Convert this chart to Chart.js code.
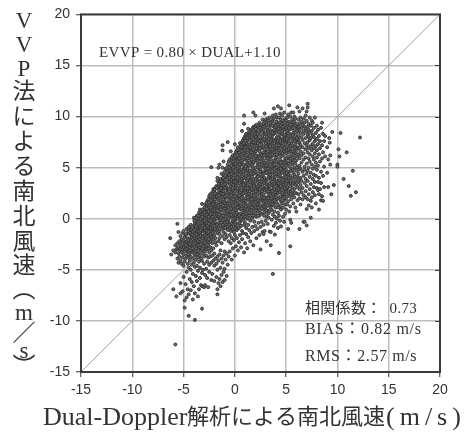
<!DOCTYPE html>
<html>
<head>
<meta charset="utf-8">
<script src="https://cdn.jsdelivr.net/npm/chart.js@4"></script>
<style>
  html, body { margin: 0; padding: 0; background: #fff; }
  canvas { display: block; }
</style>
</head>
<body>
<canvas id="scatter" width="473" height="435"></canvas>
<script>
// each row: [Dual-Doppler value, [VVP values read at that x]]
const lowerCloud = [
  [-6.3,[-1.9]], [-6.2,[-3.5]], [-6.0,[-6.9,-3.1]], [-5.8,[-12.3,-3.3,-2.6]], [-5.7,[-7.6,-3.0]],
  [-5.6,[-3.9,-2.9,-2.4,-0.5]], [-5.5,[-4.3,-3.4,-2.8,-1.3]], [-5.4,[-3.7,-3.1,-2.2]],
  [-5.3,[-7.3,-6.3,-4.1,-2.9,-2.5,-1.7]], [-5.2,[-4.4,-3.3,-2.7,-2.0]], [-5.1,[-7.1,-3.8,-3.0,-2.3,-1.4]],
  [-5.0,[-5.7,-4.6,-3.5,-2.8,-2.1,-1.2]], [-4.9,[-8.7,-8.0,-4.2,-3.2,-2.6,-1.8]], [-4.8,[-6.4,-3.9,-3.0,-2.4,-1.6]],
  [-4.7,[-7.7,-5.2,-3.6,-2.9,-2.2,-1.0]], [-4.6,[-6.9,-4.4,-3.3,-2.7,-1.9]], [-4.5,[-9.5,-7.4,-4.8,-3.8,-3.1,-2.4,-1.4,-0.8]],
  [-4.4,[-5.9,-4.1,-3.4,-2.8,-2.0,-1.1]], [-4.3,[-7.0,-5.0,-3.7,-3.0,-2.3,-1.6,-0.6]], [-4.2,[-6.2,-4.5,-3.2,-2.6,-1.8,-1.0]],
  [-4.1,[-7.9,-5.4,-3.9,-3.3,-2.5,-2.0,-1.3]], [-4.0,[-6.6,-4.3,-3.0,-2.2,-1.5,-0.7,0.1]], [-3.9,[-9.9,-7.3,-4.7,-3.6,-2.8,-1.9,-1.1,-0.4]],
  [-3.8,[-5.6,-4.0,-3.2,-2.4,-1.7,-0.9,-0.2]], [-3.7,[-6.1,-4.6,-3.5,-2.7,-2.1,-1.3,-0.6,0.3]], [-3.6,[-7.6,-5.1,-3.8,-2.9,-2.2,-1.5,-0.8,0.0]],
  [-3.5,[-6.9,-4.2,-3.3,-2.5,-1.9,-1.1,-0.3,0.6]], [-3.4,[-5.8,-4.8,-3.6,-2.8,-2.0,-1.4,-0.7,0.2,0.9]], [-3.3,[-6.5,-3.9,-3.0,-2.3,-1.6,-0.9,-0.1,0.5]],
  [-3.2,[-8.8,-6.6,-5.3,-4.1,-3.1,-2.6,-1.8,-1.2,-0.5,0.4,1.45]], [-3.1,[-5.0,-3.4,-2.4,-1.7,-1.0,-0.2,0.7]], [-3.0,[-6.7,-4.4,-3.7,-2.9,-2.1,-1.3,-0.6,0.1,1.0]],
  [-2.9,[-6.5,-5.5,-3.2,-2.5,-1.9,-1.1,-0.4,0.3,0.8,1.4]], [-2.8,[-4.9,-3.6,-2.7,-2.0,-1.5,-0.8,0.0,0.6,1.2]], [-2.7,[-5.8,-4.2,-3.0,-2.2,-1.4,-0.7,0.2,0.9,1.7]],
  [-2.6,[-6.7,-3.8,-2.6,-1.8,-1.0,-0.3,0.5,1.1,1.9]], [-2.5,[-5.2,-4.5,-3.3,-2.3,-1.6,-0.9,-0.1,0.4,1.3,2.2]], [-2.4,[-3.7,-2.8,-2.1,-1.2,-0.5,0.3,0.8,1.6,2.4]],
  [-2.3,[-6.0,-4.3,-3.1,-1.9,-1.3,-0.6,0.1,0.7,1.4,2.0,5.05]], [-2.2,[-5.4,-3.6,-2.4,-1.7,-0.8,0.0,0.6,1.2,1.8,2.6]], [-2.1,[-4.1,-2.9,-2.0,-1.1,-0.4,0.4,1.0,1.7,2.0,2.9]]
];
const middleCloud = [
  [-2.0,[-6.1,-4.6,-3.4,-1.6,-1.2,-0.1,0.4,1.6,2.3,2.7]], [-1.9,[-3.9,-2.3,-1.9,-0.5,0.1,1.2,1.4,2.5,3.0]], [-1.8,[-5.7,-4.4,-2.6,-0.9,-0.6,0.6,1.0,2.1,2.2,3.2]],
  [-1.7,[-7.4,-6.9,-5.0,-3.7,-1.4,-1.1,0.3,0.5,1.9,2.4,3.7,4.0]], [-1.6,[-6.3,-4.1,-2.2,-0.8,0.2,1.1,1.3,2.9,3.2,5.0]], [-1.5,[-5.9,-3.5,-1.9,-1.5,0.0,0.9,2.0,2.6,3.6,5.3]],
  [-1.4,[-6.6,-4.8,-3.1,-0.7,-0.2,0.7,1.6,1.8,3.1,3.3,3.9]], [-1.3,[-5.5,-3.9,-2.4,-1.0,0.4,1.2,2.3,2.8,3.4,4.4]], [-1.2,[-6.2,-4.3,-1.7,-0.3,0.1,1.5,2.2,2.5,3.8,5.0,6.7,7.2]],
  [-1.1,[-5.2,-3.6,-1.3,-0.9,0.8,1.0,2.7,3.0,4.3,5.6]], [-1.0,[-6.0,-4.9,-3.2,-2.0,-0.4,0.5,1.7,1.9,3.6,3.9,4.6]], [-0.9,[-4.0,-1.5,-0.2,0.2,1.2,2.4,3.3,3.5,4.9]],
  [-0.8,[-5.6,-3.4,-1.8,-0.6,0.6,0.9,2.1,3.1,4.2,4.95]], [-0.7,[-4.5,-1.1,-0.8,0.4,1.5,1.6,2.8,4.0,4.4,5.3,7.5]], [-0.6,[-3.7,-2.2,-0.3,0.0,1.1,2.5,2.9,3.7,4.7,5.6]],
  [-0.5,[-3.2,-1.6,-0.9,0.7,1.9,2.2,3.4,3.6,5.1,5.8]], [-0.4,[-2.4,-1.2,0.2,0.5,1.3,2.6,3.1,4.5,4.9,6.6]], [-0.3,[-4.0,-1.9,-0.5,0.9,1.7,2.0,3.8,4.1,5.4,5.7,6.0]],
  [-0.2,[-2.9,-1.0,-0.2,0.3,1.4,2.8,3.0,4.3,4.8,5.2,6.2]], [-0.1,[-2.1,-1.3,0.6,1.0,2.3,2.5,3.6,4.6,5.5,5.9]], [0.0,[-3.6,-1.6,-0.4,0.1,1.6,1.8,3.3,3.9,4.0,5.1,6.3,7.3]],
  [0.1,[-2.7,-0.8,-0.1,0.8,1.2,2.9,3.2,4.4,5.7,6.0,6.5]], [0.2,[-1.9,-1.1,0.4,0.6,2.1,2.3,3.7,4.9,5.3,6.4,6.7]], [0.3,[-3.1,-0.5,0.2,1.4,1.5,2.7,3.5,4.2,4.6,5.8,7.0]],
  [0.4,[-2.3,-0.9,1.0,1.1,2.0,3.0,3.9,5.0,5.6,6.1,6.8]], [0.5,[-1.6,-0.3,0.5,1.9,2.5,2.6,4.1,4.7,5.2,6.6,7.4]], [0.6,[-2.8,-0.7,0.0,0.9,1.3,3.3,3.6,4.5,5.9,6.3,7.2]],
  [0.7,[-2.0,-1.2,0.3,1.7,2.2,2.4,3.8,5.4,5.5,6.9,7.5,8.6]], [0.8,[-1.4,0.1,0.6,1.2,2.8,3.1,4.3,4.8,6.2,7.0,7.7]], [0.9,[-3.3,-0.6,0.8,1.6,1.8,3.5,4.0,5.1,5.8,6.7,7.3,7.9,9.3,10.1]]
];
const coreCloud = [
  [1.0,[-2.4,-0.4,0.2,1.0,2.0,2.9,3.4,4.6,4.9,6.0,6.4,7.8,8.1]], [1.1,[-1.5,-0.9,0.7,1.4,2.4,2.6,3.9,5.3,5.7,7.1,7.4,8.3]], [1.2,[-2.9,0.0,0.4,1.8,3.2,3.6,4.2,5.0,6.5,6.9,7.6,8.0]],
  [1.3,[-1.8,-0.6,1.1,1.2,2.2,2.7,4.4,4.7,5.5,6.1,7.2,8.4,8.8]], [1.4,[-1.1,0.3,0.9,2.5,3.0,3.8,5.2,5.9,6.7,7.9,8.2]], [1.5,[-2.2,-0.2,1.6,1.9,3.4,4.1,4.5,6.3,6.6,7.0,8.5]],
  [1.6,[-1.4,0.5,0.8,2.1,2.3,3.1,3.7,5.6,5.8,7.5,7.7,8.7]], [1.7,[-0.8,0.1,1.3,1.5,2.8,4.3,4.8,5.1,6.8,6.2,8.1,8.8]], [1.8,[-2.6,0.6,1.0,2.6,3.5,3.9,5.4,6.0,7.3,7.8,9.0,10.4]],
  [1.9,[-1.2,-0.3,1.7,2.0,3.3,4.6,4.7,6.4,6.5,7.1,8.3,8.9]], [2.0,[-0.7,0.4,1.2,2.4,2.9,3.6,5.0,5.7,7.4,7.6,8.6,9.1,10.1]], [2.1,[-1.9,0.2,0.9,1.9,3.1,4.0,4.4,5.9,6.9,8.0,8.4,9.2]],
  [2.2,[-1.0,0.7,1.4,2.2,2.7,3.8,5.2,5.5,6.2,7.2,7.9,8.9]], [2.3,[-0.4,1.1,1.6,3.0,3.4,4.2,4.9,6.1,6.7,7.7,8.5,9.1]], [2.4,[-1.6,0.3,0.8,2.5,2.6,3.7,5.3,5.6,6.6,7.0,8.2,9.4]],
  [2.5,[-3.0,-0.8,1.3,2.0,3.2,4.5,4.8,6.3,7.5,7.8,8.7,9.0]], [2.6,[-0.3,0.5,1.8,2.3,3.6,4.1,5.1,5.8,6.9,7.3,8.8,9.2]], [2.7,[-1.3,1.0,1.2,2.9,3.3,4.3,5.4,6.0,6.4,7.9,8.1,9.7]],
  [2.8,[-1.5,-0.6,0.9,1.5,2.4,3.9,4.6,5.7,6.5,7.1,8.6,9.3]], [2.9,[-1.2,0.6,1.7,2.8,3.0,4.0,5.0,5.3,6.8,7.6,8.3,9.5,10.3]], [3.0,[-0.2,1.1,1.4,2.1,3.7,4.7,4.9,6.2,7.4,7.7,8.9,9.7]],
  [3.1,[-2.2,0.2,1.9,2.6,3.4,3.8,5.5,5.9,6.6,8.0,8.4,9.4]], [3.2,[-0.5,0.8,1.3,3.1,3.2,4.4,5.2,6.3,7.0,7.2,8.7,9.8]], [3.3,[0.1,1.6,2.2,2.5,4.1,4.8,5.6,6.0,7.8,8.2,9.1,9.6]],
  [3.4,[-1.25,0.7,1.8,2.9,3.5,4.6,5.0,6.7,6.9,7.3,8.8,9.9]], [3.5,[-2.6,-1.3,1.2,1.5,2.7,3.9,4.2,5.8,6.4,7.6,8.5,9.2]], [3.6,[-0.1,0.9,2.0,3.3,3.6,5.1,5.4,6.1,7.9,8.1,9.5]],
  [3.7,[-5.4,0.4,1.7,2.4,2.8,4.5,4.9,6.5,7.1,7.4,8.6,9.7,10.1]], [3.8,[-0.7,1.3,2.1,3.1,4.0,5.6,5.7,6.8,7.7,8.3,9.0,9.8,10.8]], [3.9,[-1.55,0.2,1.6,2.6,3.8,4.3,5.2,6.2,7.0,8.4,8.9,9.3]],
  [4.0,[-0.4,1.1,2.3,3.4,3.5,4.7,5.9,6.6,7.5,7.8,9.1,10.2]], [4.1,[0.0,1.9,2.8,3.0,4.4,5.0,6.0,6.9,8.0,8.7,9.5,9.9]], [4.2,[-0.9,0.6,1.4,2.5,3.7,4.1,5.5,6.3,7.3,7.6,9.2,11.0]],
  [4.3,[-3.35,0.3,2.0,3.2,3.3,4.8,5.3,6.7,7.2,8.5,9.0,9.9]], [4.4,[-0.2,1.2,2.6,2.9,4.2,4.6,5.8,6.4,7.9,8.2,9.4,10.3]], [4.5,[-0.75,0.9,1.7,3.5,3.9,5.1,6.1,6.5,7.4,8.8,9.7,10.8]],
  [4.6,[1.5,2.2,3.1,4.5,4.9,5.6,7.1,7.7,8.6,9.3,10.1]], [4.7,[0.2,1.1,2.7,3.6,4.0,5.4,6.2,6.8,8.3,8.9,9.6]], [4.8,[-0.3,1.8,2.4,3.3,4.7,5.0,6.6,7.5,8.0,9.1,10.4]],
  [4.9,[0.5,1.4,2.9,3.8,4.3,5.7,5.9,7.3,7.8,8.7,9.8]]
];
const upperRightCloud = [
  [5.0,[0.9,2.0,2.6,3.4,4.8,5.2,6.4,7.0,8.2,8.9,9.6]], [5.1,[1.4,2.9,3.1,4.1,5.5,6.7,7.5,8.5,9.3,9.9]], [5.2,[-1.0,1.7,2.4,3.7,4.4,5.9,6.1,7.7,8.1,9.0,10.2]],
  [5.3,[0.7,2.2,3.5,4.6,5.1,6.5,7.2,8.7,9.5,11.1]], [5.4,[-2.7,-0.1,1.2,2.7,3.2,4.2,5.6,6.9,7.9,8.3,10.0]], [5.5,[-0.4,1.9,3.9,4.9,6.2,6.6,7.4,8.8,9.4,10.4]],
  [5.6,[2.3,3.0,4.0,5.3,5.8,7.6,8.0,9.1,9.7]], [5.7,[1.5,2.6,3.6,4.5,6.3,7.1,8.4,9.2,10.4]], [5.8,[2.1,2.9,4.3,5.0,6.0,6.8,7.8,8.6,9.5,10.0]],
  [5.9,[1.1,3.3,3.8,5.4,6.4,7.3,8.2,9.8]], [6.0,[0.7,2.5,4.7,5.7,6.7,7.6,8.9,9.3]], [6.1,[1.8,3.1,4.1,5.1,6.1,7.0,8.5,9.0,10.9]],
  [6.2,[2.4,3.6,4.4,6.3,7.8,8.1,9.7]], [6.3,[-1.0,2.0,2.9,5.2,5.9,7.4,8.7,9.3,10.5]], [6.4,[1.4,3.3,4.0,4.9,6.6,7.2,8.4,9.9]],
  [6.5,[2.6,3.7,5.5,6.2,8.0,8.9,9.5]], [6.6,[1.9,3.0,4.6,7.0,7.7,9.2,10.8]], [6.7,[-0.3,2.3,4.2,5.8,6.4,8.3,8.6,9.8]],
  [6.8,[-0.3,3.5,4.8,5.1,7.4,9.0,9.4]], [6.9,[2.1,2.7,3.9,6.0,6.8,7.9,8.8,10.1]], [7.0,[-0.65,0.95,3.2,4.4,5.4,7.2,8.5,9.6,10.5]],
  [7.1,[1.9,3.7,4.7,6.5,7.5,8.2,9.0,10.9,11.25]], [7.2,[1.3,2.4,5.0,5.9,6.9,8.0,8.7,9.3]], [7.3,[2.9,4.1,5.6,6.3,7.7,8.4,9.9]],
  [7.4,[0.1,1.75,3.4,4.5,7.1,7.9,9.1]], [7.5,[1.1,2.1,5.3,6.7,8.6,9.6]], [7.6,[2.6,3.9,4.9,6.1,7.3,8.2,9.4]],
  [7.7,[3.1,4.3,5.8,6.9,8.0,8.9]], [7.8,[2.3,3.6,5.1,6.4,7.6,9.9]], [7.9,[1.5,4.2,5.5,7.1,8.4]],
  [8.0,[3.0,4.8,6.0,6.7,7.8,9.1]], [8.1,[2.8,3.6,5.2,7.3,8.7]], [8.2,[0.9,2.4,4.0,6.3,8.1]],
  [8.3,[2.9,5.6,6.9,7.6]], [8.4,[1.8,3.5,4.6,8.9]], [8.5,[2.2,5.9,7.2,9.4]],
  [8.6,[1.75,4.2,6.5,8.3]], [8.7,[3.1,5.1,7.6]], [8.8,[6.1,8.1]],
  [9.0,[4.5,7.0]], [9.1,[3.1,5.8]], [9.2,[7.9]], [9.25,[7.45]], [9.3,[6.2,5.3]], [9.4,[2.4]], [9.5,[8.5]], [9.65,[3.3]],
  [10.0,[5.3,5.1]], [10.1,[6.8]], [10.2,[6.1]], [10.3,[8.4]], [10.6,[3.9]], [10.9,[6.5]], [11.1,[3.2]], [11.3,[2.25]], [11.5,[4.7]], [11.8,[2.6]], [12.2,[7.95]]
];
// the dark band along the ridge needs a second pass of readings between the rows above
const ridgeCloud = [
  [-4.75,[-2.6,-1.5]], [-4.55,[-3.5,-2.1,-1.2]], [-4.35,[-3.1,-2.5,-1.4]], [-4.15,[-2.9,-1.6,-0.8]], [-3.95,[-3.4,-2.4,-1.7,-0.2]], [-3.75,[-2.9,-1.5,-0.7,0.1]],
  [-3.55,[-3.1,-2.6,-1.2,-0.5,0.3]], [-3.35,[-2.5,-1.7,-1.1,0.0,0.7]], [-3.15,[-2.9,-1.9,-0.7,0.2,0.9]], [-2.95,[-2.3,-1.6,-0.9,-0.2,0.6,1.1]], [-2.75,[-2.5,-1.2,-0.4,0.4,1.0,1.5]],
  [-2.55,[-2.9,-2.0,-1.3,-0.5,0.2,0.7,1.6]], [-2.35,[-1.5,-0.9,-0.2,0.5,1.1,1.8,2.2]], [-2.15,[-1.4,-0.7,0.2,0.8,1.4,2.4]], [-1.95,[-1.0,-0.3,0.7,0.9,1.9,2.5,2.9]], [-1.75,[-0.6,0.0,0.8,1.5,2.2,3.0]],
  [-1.55,[-1.2,-0.4,0.4,1.6,2.3,2.8,3.4]], [-1.35,[-0.4,0.1,0.9,1.4,2.5,3.0,3.7]], [-1.15,[-0.6,0.3,1.3,1.9,2.4,3.3,4.0]], [-0.95,[-0.9,0.0,1.0,1.5,2.2,3.0,3.4,4.2]], [-0.75,[-0.3,0.8,1.3,2.3,2.6,3.6,4.6]],
  [-0.55,[-0.6,0.3,1.5,1.8,2.7,4.0,4.3,5.0]], [-0.35,[-0.8,0.4,1.0,2.3,3.4,4.4,5.2]], [-0.15,[-0.6,0.0,1.2,1.9,3.3,4.0,5.0,5.6]], [0.05,[-0.9,0.4,0.9,2.2,2.7,3.6,4.7,5.4,6.1]], [0.25,[0.0,1.1,1.8,3.0,3.4,4.4,5.6,6.2]],
  [0.45,[-0.4,0.3,1.6,2.3,3.5,4.3,5.3,5.9,6.5]], [0.65,[0.2,1.0,2.0,2.8,3.9,4.8,5.7,6.6,7.0]], [0.85,[-0.2,0.4,1.4,2.5,3.3,4.6,5.3,6.4,7.4]], [1.05,[0.5,1.2,1.7,3.0,4.2,5.1,6.2,7.0,7.6]], [1.25,[0.1,0.9,2.1,3.0,3.8,4.9,5.9,6.7,7.9]],
  [1.45,[0.6,1.4,2.7,3.6,4.7,5.5,6.1,7.3,8.1]], [1.65,[0.0,1.1,1.9,2.9,4.1,5.3,6.5,7.2,8.3]], [1.85,[0.3,1.4,2.3,3.2,4.4,5.6,6.8,7.5,8.6]], [2.05,[0.8,1.6,2.7,3.9,4.6,6.1,6.6,8.0,8.8]], [2.25,[0.3,1.1,1.8,3.2,4.1,5.0,5.9,7.4,8.3]],
  [2.45,[0.6,1.7,2.9,3.4,4.6,5.9,6.9,7.6,8.9]], [2.65,[1.0,2.1,2.7,3.9,5.3,6.2,7.6,8.5]], [2.85,[0.3,1.2,2.0,3.5,4.4,5.5,6.2,7.8,9.0]], [3.05,[0.8,1.7,2.9,3.1,4.5,5.2,6.5,7.1,8.3,9.2]], [3.25,[0.5,2.0,2.7,3.9,4.9,5.9,6.6,7.5,8.5]],
  [3.45,[1.1,2.3,3.2,4.3,5.4,6.2,7.1,8.1,9.4]], [3.65,[1.4,2.7,3.9,4.7,6.3,6.8,8.4,9.1]], [3.85,[0.7,1.8,2.9,3.4,4.9,5.3,6.5,7.4,8.7]], [4.05,[1.6,2.1,3.7,4.4,5.6,6.3,7.2,8.4,9.5]], [4.25,[1.1,2.9,3.5,4.6,5.2,6.9,7.9,8.8]],
  [4.45,[1.9,2.2,3.2,4.9,5.5,6.9,7.6,9.1]], [4.65,[1.8,2.5,3.8,5.2,6.4,7.4,8.3,9.0]], [4.85,[2.1,3.0,4.4,5.5,6.9,8.2,9.4]], [5.05,[2.4,3.7,4.5,5.9,6.7,7.8,8.6]], [5.25,[2.8,4.0,5.4,6.8,7.4,8.9]],
  [5.45,[2.4,3.5,4.7,5.9,7.1,8.1,9.2]], [5.65,[3.4,4.8,5.5,6.6,8.2,8.9]], [5.85,[2.5,4.1,5.7,7.0,7.6,9.1]], [6.05,[3.5,5.0,6.3,7.9,8.6]], [6.25,[3.9,4.8,6.9,7.5,9.0]]
];
const tickValues = [-15, -10, -5, 0, 5, 10, 15, 20];
const identityLine = [-15, 20];
const yAxisLabel = ['V','V','P','法','に','よ','る','南','北','風','速','︵','m','／','s','︶'];
const yAxisLabelRows = [22,46,70,93,118,143,168,193,218,243,267,291,314,335,352,368];
const xAxisLatin = 'Dual-Doppler';
const xAxisKanji = '解析による南北風速';
const xAxisUnit = '(m/s)';
const equationText = 'EVVP = 0.80 × DUAL+1.10';
const statTexts = ['相関係数：  0.73', 'BIAS：0.82 m/s', 'RMS：2.57 m/s'];

const serif = '"Liberation Serif", "Noto Sans CJK JP", serif';
const sans = '"Liberation Sans", Arial, sans-serif';

const scatterPoints = [];
[lowerCloud, middleCloud, coreCloud, upperRightCloud, ridgeCloud].forEach(cloud => {
    cloud.forEach(row => {
        row[1].forEach(v => scatterPoints.push({x: row[0], y: v}));
    });
});

function label(c, text, x, y, size, spacing) {
    c.font = size + 'px ' + serif;
    c.letterSpacing = spacing + 'px';
    c.fillText(text, x, y);
}

const frameAndText = {
    id: 'frameAndText',
    afterDatasetsDraw(chart) {
        const c = chart.ctx;
        const a = chart.chartArea;
        c.save();
        // frame on top of the dots
        c.strokeStyle = '#3a3a3a';
        c.lineWidth = 2;
        c.strokeRect(a.left, a.top, a.width, a.height);
        c.lineWidth = 1;
        chart.scales.y.ticks.forEach(t => {
            const py = Math.round(chart.scales.y.getPixelForValue(t.value)) + 0.5;
            c.beginPath();
            c.moveTo(a.right, py);
            c.lineTo(a.right - 5, py);
            c.stroke();
        });

        c.fillStyle = '#333';
        c.textBaseline = 'middle';
        c.textAlign = 'left';
        label(c, equationText, 99, 53, 15, 0.35);
        label(c, statTexts[0], 305, 309, 15, 0.3);
        label(c, statTexts[1], 305, 330, 16, 0.7);
        label(c, statTexts[2], 305, 357, 16, 0.6);

        // x axis title is three runs with different widths
        label(c, xAxisLatin, 43, 418, 26, 0);
        label(c, xAxisKanji, 187, 418, 22, 0);
        label(c, xAxisUnit, 386, 418, 26, 5);

        c.textAlign = 'center';
        yAxisLabel.forEach((ch, i) => label(c, ch, 24, yAxisLabelRows[i], 23, 0));
        c.restore();
    }
};

const chart = new Chart(document.getElementById('scatter').getContext('2d'), {
    type: 'scatter',
    plugins: [frameAndText],
    data: {
        datasets: [{
            type: 'line',
            data: identityLine.map(v => ({x: v, y: v})),
            borderColor: '#a0a0a0',
            borderWidth: 1,
            pointRadius: 0,
            order: 2
        }, {
            data: scatterPoints,
            backgroundColor: '#6e6e6e',
            borderColor: '#333333',
            borderWidth: 1,
            pointRadius: 1.5,
            order: 1
        }]
    },
    options: {
        responsive: false,
        animation: false,
        layout: {padding: {top: 14, right: 33, left: 0, bottom: 0}},
        plugins: {legend: {display: false}, tooltip: {enabled: false}},
        scales: {
            x: {
                type: 'linear',
                min: -15,
                max: 20,
                afterBuildTicks: s => { s.ticks = tickValues.map(v => ({value: v})); },
                afterFit: s => { s.height = 63; },
                grid: {color: '#bdbdbd', lineWidth: 1.5, tickColor: '#333', tickLength: 5, tickWidth: 1},
                border: {display: false},
                ticks: {color: '#333', font: {size: 14, family: sans}, maxRotation: 0, padding: 5}
            },
            y: {
                type: 'linear',
                min: -15,
                max: 20,
                afterBuildTicks: s => { s.ticks = tickValues.map(v => ({value: v})); },
                afterFit: s => { s.width = 81; },
                grid: {color: '#bdbdbd', lineWidth: 1.5, tickColor: '#333', tickLength: 5, tickWidth: 1},
                border: {display: false},
                ticks: {color: '#333', font: {size: 14, family: sans}, padding: 6}
            }
        }
    }
});
</script>
</body>
</html>
